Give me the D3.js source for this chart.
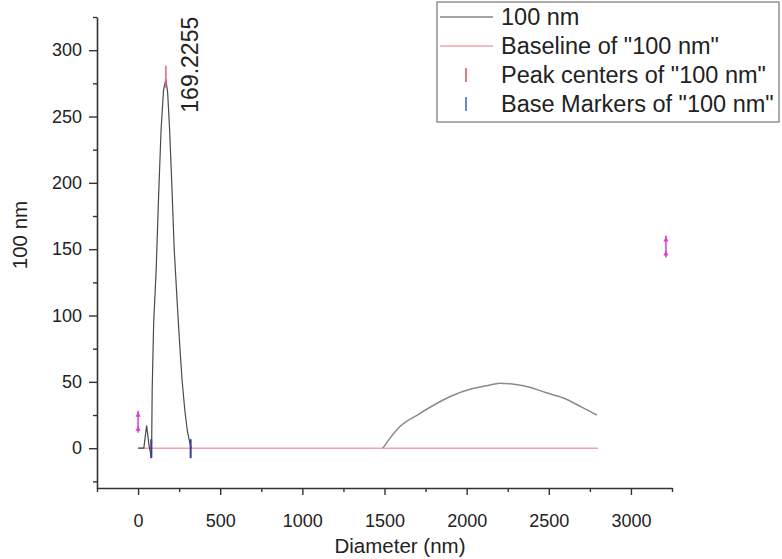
<!DOCTYPE html>
<html>
<head>
<meta charset="utf-8">
<script src="https://cdn.jsdelivr.net/npm/d3@7"></script>
<style>
  html, body { margin: 0; padding: 0; background: #fff; }
  svg { display: block; font-family: "Liberation Sans", Arial, sans-serif; }
</style>
</head>
<body>
<svg id="chart" width="782" height="559"></svg>
<script>
// ---------- data ----------
const seriesName = "100 nm";
const xTickLabels = [0, 500, 1000, 1500, 2000, 2500, 3000];
const yTickLabels = [0, 50, 100, 150, 200, 250, 300];

// first segment of the size distribution
const diamA  = [0, 35, 52, 68, 82, 86, 95, 110, 125, 140, 155, 169.2255, 180, 192, 205, 220, 238, 255, 268, 285, 300, 315, 323];
const valueA = [0, 0, 17, 1, -7, 45, 95, 134, 190, 240, 270, 278, 268, 240, 200, 150, 110, 75, 51, 28, 13, 4, 0];
// second segment
const diamB  = [1490, 1530, 1591, 1700, 1793, 1900, 2037, 2120, 2201, 2300, 2384, 2480, 2585, 2700, 2793];
const valueB = [0, 7, 16, 25, 32, 39, 45, 47, 49, 48, 46, 42, 38, 31, 25];

// baseline
const baselineX = [0, 2800];
const baselineY = [0, 0];

// peak centers
const peakX = [0, 169.2255, 3213];
const peakY = [20, 280, 152];
const peakLabel = ["", "169.2255", ""];

// base markers
const baseX = [80, 320];
const baseY = [0, 0];

const legendLabels = ["100 nm", 'Baseline of "100 nm"', 'Peak centers of "100 nm"', 'Base Markers of "100 nm"'];

// ---------- layout ----------
const svg = d3.select("#chart");
const x = d3.scaleLinear().domain([-250, 3250]).range([97, 672]);
const y = d3.scaleLinear().domain([-30, 325]).range([488, 17]);

const lineCol = "#4a4a4a";
const baseCol = "#f3a3ab";
const peakCol = "#e03ad6";
const baseMkCol = "#3c3c9a";
const fontFam = '"Liberation Sans", Arial, sans-serif';

// axes
const xMinor = d3.range(-250, 3251, 250);
const yMinor = d3.range(-25, 326, 25);

const gx = svg.append("g").attr("transform", `translate(0,${y(-30)})`);
gx.call(d3.axisBottom(x).tickValues(xMinor.filter(v => v % 500 !== 0)).tickSize(4).tickFormat(""));
gx.call(g => g.select(".domain").remove());
const gx2 = svg.append("g").attr("transform", `translate(0,${y(-30)})`);
gx2.call(d3.axisBottom(x).tickValues(xTickLabels).tickFormat(d3.format("d"))
  .tickSize(7).tickPadding(19).tickSizeOuter(0));
gx2.select(".domain").attr("stroke", "#333").attr("stroke-width", 1.6);
gx2.selectAll(".tick line").attr("stroke", "#333").attr("stroke-width", 1.4);
gx.selectAll(".tick line").attr("stroke", "#333").attr("stroke-width", 1.4);
gx2.selectAll(".tick text").attr("font-size", 18).attr("fill", "#222").attr("font-family", fontFam);

const gy = svg.append("g").attr("transform", `translate(${x(-250)},0)`);
gy.call(d3.axisLeft(y).tickValues(yMinor.filter(v => v % 50 !== 0)).tickSize(4).tickFormat(""));
gy.call(g => g.select(".domain").remove());
const gy2 = svg.append("g").attr("transform", `translate(${x(-250)},0)`);
gy2.call(d3.axisLeft(y).tickValues(yTickLabels).tickSize(8).tickPadding(7).tickSizeOuter(0));
gy2.select(".domain").attr("stroke", "#333").attr("stroke-width", 1.6);
gy2.selectAll(".tick line").attr("stroke", "#333").attr("stroke-width", 1.4);
gy.selectAll(".tick line").attr("stroke", "#333").attr("stroke-width", 1.4);
gy2.selectAll(".tick text").attr("font-size", 18).attr("fill", "#222").attr("font-family", fontFam);

// axis titles
svg.append("text").attr("x", 400).attr("y", 553)
  .attr("text-anchor", "middle").attr("font-size", 20.5).attr("fill", "#222")
  .text("Diameter (nm)");
svg.append("text").attr("transform", "translate(27,235) rotate(-90)")
  .attr("text-anchor", "middle").attr("font-size", 20.5).attr("fill", "#222")
  .text(seriesName);

// baseline
const line = d3.line().x(d => x(d[0])).y(d => y(d[1]));
svg.append("path").datum(d3.zip(baselineX, baselineY))
  .attr("d", line).attr("fill", "none").attr("stroke", baseCol).attr("stroke-width", 1.6);

// data curves
svg.append("path").datum(d3.zip(diamA, valueA))
  .attr("d", line).attr("fill", "none").attr("stroke", lineCol).attr("stroke-width", 1.2);
svg.append("path").datum(d3.zip(diamB, valueB))
  .attr("d", d3.line().x(d => x(d[0])).y(d => y(d[1])).curve(d3.curveMonotoneX))
  .attr("fill", "none").attr("stroke", "#8a8a8a").attr("stroke-width", 1.5);

// base markers
baseX.forEach((bx, i) => {
  svg.append("line").attr("x1", x(bx)).attr("x2", x(bx))
    .attr("y1", y(baseY[i]) - 9).attr("y2", y(baseY[i]) + 10)
    .attr("stroke", baseMkCol).attr("stroke-width", 2);
});

// peak markers
peakX.forEach((px, i) => {
  const cx = x(px), cy = y(peakY[i]);
  const col = i === 1 ? "#f0607a" : peakCol;
  svg.append("line").attr("x1", cx).attr("x2", cx).attr("y1", cy - 11).attr("y2", cy + 11)
    .attr("stroke", col).attr("stroke-width", 1.5);
  if (i !== 1) {
    [cy - 8, cy + 6].forEach(yy => {
      svg.append("path")
        .attr("d", `M${cx - 2.5},${yy + 3} L${cx},${yy - 2} L${cx + 2.5},${yy + 3} Z`)
        .attr("fill", col);
    });
  }
  if (peakLabel[i]) {
    svg.append("text")
      .attr("transform", `translate(${cx + 32},${cy + 36}) rotate(-90)`)
      .attr("font-size", 23).attr("fill", "#222").text(peakLabel[i]);
  }
});

// legend
const lg = svg.append("g");
lg.append("rect").attr("x", 437).attr("y", 2).attr("width", 342).attr("height", 120)
  .attr("fill", "#fff").attr("stroke", "#777").attr("stroke-width", 1.2);
const rowY = [17, 46, 75, 104];
legendLabels.forEach((t, i) => {
  lg.append("text").attr("x", 501).attr("y", rowY[i]).attr("dy", "0.35em")
    .attr("font-size", 23.5).attr("fill", "#222").text(t);
});
lg.append("line").attr("x1", 440).attr("x2", 493).attr("y1", rowY[0]).attr("y2", rowY[0])
  .attr("stroke", lineCol).attr("stroke-width", 1.2);
lg.append("line").attr("x1", 440).attr("x2", 493).attr("y1", rowY[1]).attr("y2", rowY[1])
  .attr("stroke", baseCol).attr("stroke-width", 1.6);
lg.append("line").attr("x1", 466).attr("x2", 466).attr("y1", rowY[2] - 7).attr("y2", rowY[2] + 7)
  .attr("stroke", "#e0807a").attr("stroke-width", 2);
lg.append("line").attr("x1", 466).attr("x2", 466).attr("y1", rowY[3] - 7).attr("y2", rowY[3] + 7)
  .attr("stroke", "#6a8acc").attr("stroke-width", 2);
</script>
</body>
</html>
